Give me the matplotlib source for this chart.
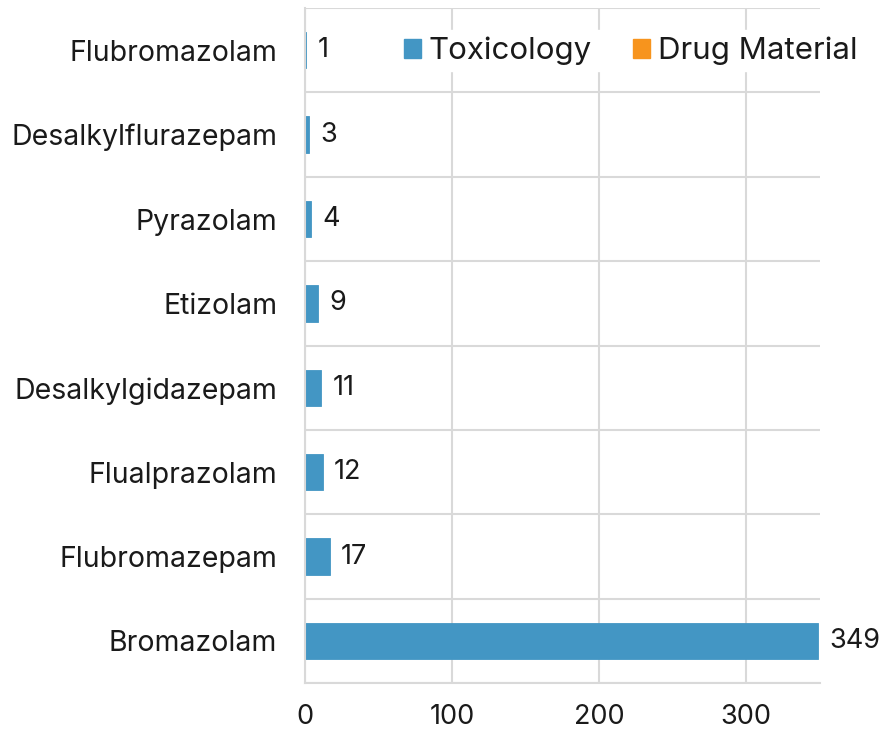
import matplotlib
matplotlib.use('Agg')
import matplotlib.pyplot as plt
import numpy as np
from matplotlib.patches import Patch

# Data (top to bottom as shown)
drugs = ['Flubromazolam', 'Desalkylflurazepam', 'Pyrazolam', 'Etizolam',
         'Desalkylgidazepam', 'Flualprazolam', 'Flubromazepam', 'Bromazolam']
toxicology = [1, 3, 4, 9, 11, 12, 17, 349]
drug_material = [0, 0, 0, 0, 0, 0, 0, 0]
x_ticks = [0, 100, 200, 300]

tox_color = '#4396C4'
dm_color = '#F7941D'
grid_color = '#D9D9D9'
text_color = '#1a1a1a'

plt.rcParams['font.family'] = ['Inter', 'DejaVu Sans']

fig = plt.figure(figsize=(8.8, 7.33), dpi=100)
ax = fig.add_axes([0.3466, 0.068, 0.585, 0.921])

y = np.arange(len(drugs))
bars = ax.barh(y, toxicology, height=0.43, color=tox_color,
               edgecolor=tox_color, linewidth=0.6)
ax.barh(y, drug_material, height=0.43, left=toxicology, color=dm_color)

for rect, val in zip(bars, toxicology):
    ax.annotate(str(val), (rect.get_width(), rect.get_y() + rect.get_height() / 2),
                xytext=(8, 0), textcoords='offset points',
                va='center', ha='left', fontsize=19.5, color=text_color)

ax.set_ylim(len(drugs) - 0.5, -0.5)
ax.set_xlim(0, 350)
ax.set_yticks(y)
ax.set_yticklabels(drugs, fontsize=20.5, color=text_color)
ax.set_xticks(x_ticks)
ax.set_xticklabels([str(t) for t in x_ticks], fontsize=19.5, color=text_color)

# grid lines between categories
ax.set_yticks(np.arange(-0.5, len(drugs)), minor=True)
ax.grid(which='minor', axis='y', color=grid_color, linewidth=1.5)
ax.grid(which='major', axis='x', color=grid_color, linewidth=1.5)
ax.set_axisbelow(True)
ax.tick_params(axis='both', which='both', length=0)
ax.tick_params(axis='x', pad=15)
ax.tick_params(axis='y', pad=20)

for side in ['top', 'right']:
    ax.spines[side].set_visible(False)
for side in ['left', 'bottom']:
    ax.spines[side].set_color(grid_color)
    ax.spines[side].set_linewidth(1.5)

handles = [Patch(color=tox_color, label='Toxicology'),
           Patch(color=dm_color, label='Drug Material')]
leg = ax.legend(handles=handles, loc='upper right', bbox_to_anchor=(1.115, 0.99),
                ncol=2, fontsize=22.5, frameon=True, framealpha=1, edgecolor='white',
                handlelength=0.55, handleheight=0.55, handletextpad=0.25,
                columnspacing=1.3, borderpad=0.2, fancybox=False)
for t in leg.get_texts():
    t.set_color(text_color)

fig.savefig('out.png', dpi=100, facecolor='white')
